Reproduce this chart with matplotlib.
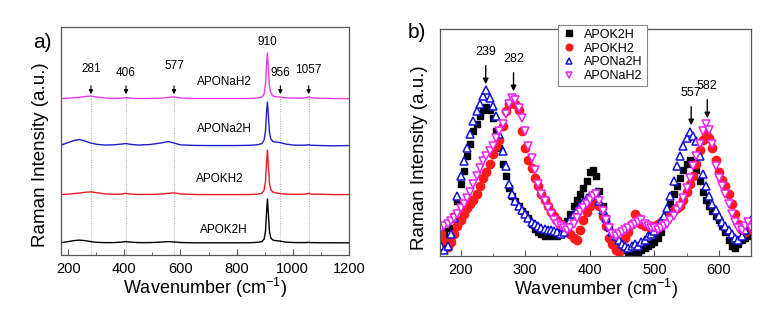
import matplotlib
matplotlib.use('Agg')
from matplotlib import pyplot as plt
from matplotlib import rcParams
from matplotlib.ticker import MultipleLocator
import numpy as np

rcParams['font.family'] = ['Liberation Sans', 'DejaVu Sans']
rcParams['mathtext.fontset'] = 'custom'
rcParams['mathtext.rm'] = 'Liberation Sans'

# ---- panel a: stacked spectra (height above own baseline) ----
wn_a = [175, 200, 220, 240, 260, 281, 300, 330, 360, 390, 406, 420, 450, 490,
        530, 557, 577, 600, 650, 700, 750, 800, 850, 875, 890, 898, 903, 907,
        910, 913, 917, 922, 930, 940, 956, 975, 1000, 1030, 1050, 1057, 1065,
        1100, 1150, 1200]
k2h_a = [0.5, 1.5, 2.5, 3.0, 2.5, 1.5, 0.8, 0.5, 0.5, 1.0, 1.5, 1.0, 0.5, 0.5,
         1.0, 1.5, 1.2, 0.6, 0.3, 0.3, 0.3, 0.3, 0.4, 0.8, 1.5, 4, 12, 32,
         44, 30, 12, 5, 3, 2.5, 2, 1, 0.6, 0.5, 0.6, 0.8, 0.5,
         0.4, 0.3, 0.3]
kh2_a = [0.5, 1, 1.5, 2, 2.8, 3.2, 2.5, 1.2, 0.8, 1.0, 1.8, 1.0, 0.6, 0.7,
         1.0, 1.8, 2.2, 1.2, 0.6, 0.5, 0.5, 0.5, 0.6, 1.0, 1.8, 5, 14, 34,
         45, 30, 12, 5, 3, 2.2, 1.5, 1.0, 0.8, 0.8, 1.2, 1.8, 1.0,
         0.8, 0.5, 0.5]
na2h_a = [1.0, 3.5, 5.5, 6.5, 5.0, 3.0, 1.8, 1.0, 1.2, 2.0, 2.5, 1.8, 1.0, 1.5,
          3.0, 4.5, 3.0, 1.2, 0.6, 0.5, 0.5, 0.5, 0.8, 1.3, 2.5, 6, 15, 35,
          44, 32, 14, 7, 4.5, 4, 3.5, 2.0, 1.0, 0.8, 1.0, 1.3, 0.8,
          0.5, 0.2, 0.5]
nah2_a = [0.5, 0.8, 1.2, 1.8, 2.5, 3.0, 2.0, 1.0, 0.6, 0.8, 1.5, 0.8, 0.5, 0.6,
          0.8, 1.5, 2.2, 1.0, 0.5, 0.5, 0.5, 0.5, 0.6, 1.0, 2.0, 5, 15, 36,
          46, 32, 13, 6, 3, 2.2, 2.0, 1.2, 1.0, 0.8, 1.5, 2.2, 1.2,
          0.8, 0.5, 0.4]
offsets_a = [12, 60, 109, 156]
names = ['APOK2H', 'APOKH2', 'APONa2H', 'APONaH2']
line_colors = ['black', '#e41e24', '#1c1cd0', '#e83ae8']
name_pos_a = [(755, 25), (740, 76), (755, 126), (755, 173)]
marks_a = [281, 406, 577, 956, 1057]
mark_lbl_y = [180, 176, 183, 176, 179]

# ---- panel b: low-frequency region ----
wn_b = list(range(170, 651, 5))
k2h_b = [30, 25, 18, 28, 40, 55, 72, 85, 100, 112, 125, 132, 140, 146, 149, 146,
         138, 125, 108, 92, 80, 68, 60, 55, 50, 45, 42, 38, 32, 27, 24, 22,
         20, 21, 20, 22, 20, 24, 28, 35, 42, 50, 56, 62, 68, 75, 84, 86,
         80, 65, 50, 38, 28, 20, 14, 10, 8, 6, 4, 2, 1, 3, 6, 8,
         10, 12, 14, 18, 24, 32, 42, 52, 62, 70, 78, 86, 92, 96, 94, 86,
         75, 64, 56, 50, 45, 40, 36, 30, 24, 16, 10, 8, 12, 16, 18, 20, 22]
kh2_b = [22, 15, 9, 14, 22, 30, 36, 42, 48, 52, 56, 62, 70, 78, 84, 92,
         102, 110, 116, 130, 145, 152, 154, 152, 146, 125, 108, 96, 88, 78, 70, 62,
         56, 50, 44, 40, 36, 32, 28, 25, 22, 18, 16, 26, 36, 44, 50, 56,
         58, 50, 40, 30, 18, 12, 6, 4, 10, 18, 24, 32, 42, 38, 32, 30,
         30, 28, 30, 32, 34, 36, 38, 42, 46, 48, 50, 56, 64, 72, 80, 92,
         106, 116, 122, 118, 108, 96, 84, 76, 70, 62, 52, 42, 32, 26, 24, 26, 28]
na2h_b = [10, 6, 10, 22, 38, 60, 80, 95, 108, 122, 135, 145, 152, 160, 166, 158,
          150, 140, 122, 105, 90, 72, 62, 55, 50, 46, 42, 38, 34, 32, 30, 28,
          27, 26, 26, 25, 24, 22, 24, 30, 36, 42, 46, 50, 54, 58, 60, 62,
          64, 55, 46, 38, 30, 24, 20, 16, 12, 10, 8, 10, 12, 10, 14, 16,
          20, 22, 25, 30, 35, 40, 48, 60, 75, 90, 100, 110, 118, 124, 120, 115,
          100, 82, 70, 60, 52, 46, 40, 34, 30, 26, 22, 18, 16, 20, 26, 32, 36]
nah2_b = [28, 30, 32, 35, 38, 42, 48, 52, 58, 64, 72, 80, 88, 95, 100, 105,
          110, 118, 125, 132, 142, 152, 158, 156, 148, 138, 125, 110, 98, 86, 72, 62,
          55, 48, 42, 36, 32, 30, 28, 26, 28, 32, 38, 44, 48, 52, 56, 60,
          62, 55, 45, 36, 28, 22, 20, 22, 24, 26, 28, 30, 32, 34, 36, 32,
          30, 28, 28, 26, 28, 30, 32, 36, 40, 46, 50, 58, 68, 78, 90, 100,
          112, 125, 132, 126, 112, 90, 78, 70, 62, 52, 42, 34, 28, 26, 30, 34, 28]
marks_b = [239, 282, 557, 582]
mark_tip_b = [169, 162, 128, 135]

fig = plt.figure(figsize=(7.65, 3.25), dpi=100)
ax1 = fig.add_axes([0.080, 0.215, 0.376, 0.702])
ax2 = fig.add_axes([0.575, 0.212, 0.407, 0.699])

frame = '#555555'
for ax in (ax1, ax2):
    for s in ax.spines.values():
        s.set_color(frame)
        s.set_linewidth(0.9)
    ax.set_yticks([])
    ax.tick_params(axis='x', which='both', direction='in', labelsize=10.5,
                   color=frame, pad=5)
    ax.tick_params(axis='x', which='major', length=4)
    ax.tick_params(axis='x', which='minor', length=2.5)
    ax.set_xlabel('Wavenumber (cm$^{-1}$)', fontsize=13, labelpad=0)
    ax.set_ylabel('Raman Intensity (a.u.)', fontsize=13.5)
ax1.yaxis.set_label_coords(-0.041, 0.44)
ax2.yaxis.set_label_coords(-0.038, 0.435)

# panel a
for m in marks_a:
    ax1.plot([m, m], [0, 157], color='#aaaaaa', lw=0.7, ls=(0, (1, 1.5)))
spectra = [k2h_a, kh2_a, na2h_a, nah2_a]
for ys, off, c in zip(spectra, offsets_a, line_colors):
    ax1.plot(wn_a, np.array(ys) + off, color=c, lw=1.0)
for n, (px, py) in zip(names, name_pos_a):
    ax1.text(px, py, n, ha='center', va='center', fontsize=8.5)
for m, ly in zip(marks_a, mark_lbl_y):
    ax1.annotate('', xy=(m, 158), xytext=(m, 172),
                 arrowprops=dict(arrowstyle='-|>', color='black', lw=0.8,
                                 mutation_scale=6))
    ax1.text(m, ly, str(m), ha='center', va='bottom', fontsize=8.5)
ax1.text(910, 207, '910', ha='center', va='bottom', fontsize=8.5)
ax1.set_xlim(175, 1200)
ax1.set_ylim(0, 228)
ax1.xaxis.set_major_locator(MultipleLocator(200))
ax1.xaxis.set_minor_locator(MultipleLocator(100))

# panel b
ax2.plot(wn_b, k2h_b, ls='none', marker='s', ms=5, color='black', label=names[0])
ax2.plot(wn_b, kh2_b, ls='none', marker='o', ms=6, color='#ff1a1a', label=names[1])
ax2.plot(wn_b, na2h_b, ls='none', marker='^', ms=5.5, mfc='white', mew=1.1,
         color='#1010d8', label=names[2])
ax2.plot(wn_b, nah2_b, ls='none', marker='v', ms=5.5, mfc='white', mew=1.1,
         color='#f020f0', label=names[3])
for m, tip in zip(marks_b, mark_tip_b):
    ax2.annotate('', xy=(m, tip), xytext=(m, tip + 24),
                 arrowprops=dict(arrowstyle='-|>', color='black', lw=1.0,
                                 mutation_scale=8))
    ax2.text(m, tip + 29, str(m), ha='center', va='bottom', fontsize=9)
ax2.set_xlim(168, 650)
ax2.set_ylim(0, 227)
ax2.xaxis.set_major_locator(MultipleLocator(100))
ax2.xaxis.set_minor_locator(MultipleLocator(50))
leg = ax2.legend(loc='upper left', bbox_to_anchor=(0.36, 1.045), fontsize=9,
                 frameon=True, fancybox=False, edgecolor='#888888',
                 framealpha=1, handletextpad=0.6, borderpad=0.3,
                 labelspacing=0.15, handlelength=1.2, markerscale=0.8)
leg.get_frame().set_linewidth(0.8)

fig.text(0.056, 0.868, 'a)', fontsize=15, ha='center', va='center')
fig.text(0.545, 0.900, 'b)', fontsize=15, ha='center', va='center')

fig.savefig('out.png', dpi=100)
